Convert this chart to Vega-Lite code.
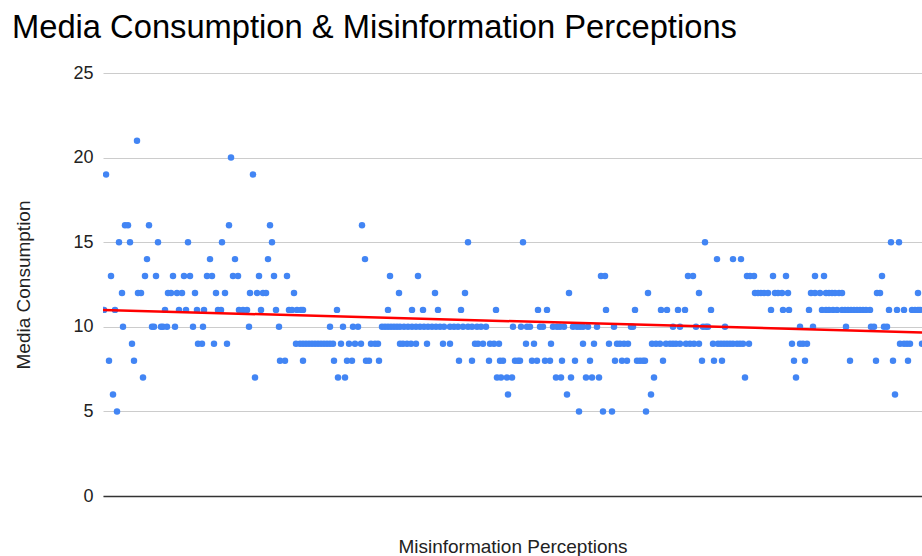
{
  "$schema": "https://vega.github.io/schema/vega-lite/v6.json",
  "width": 819,
  "height": 423,
  "autosize": {"type": "none"},
  "padding": {"left": 103, "top": 73, "right": 0, "bottom": 60},
  "background": "white",
  "title": {
    "text": "Media Consumption & Misinformation Perceptions",
    "anchor": "start",
    "frame": "group",
    "dx": -91,
    "offset": 19,
    "font": "Liberation Sans",
    "fontSize": 32.7,
    "fontWeight": "normal",
    "color": "#000000"
  },
  "config": {
    "view": {"stroke": null},
    "font": "Liberation Sans"
  },
  "datasets": {
    "points": [
      {"m":34,"c":21},{"m":128,"c":20},{"m":3,"c":19},{"m":150,"c":19},
      {"m":22,"c":16},{"m":25,"c":16},{"m":46,"c":16},{"m":126,"c":16},{"m":167,"c":16},{"m":259,"c":16},
      {"m":16,"c":15},{"m":27,"c":15},{"m":55,"c":15},{"m":85,"c":15},{"m":119,"c":15},{"m":169,"c":15},{"m":365,"c":15},{"m":420,"c":15},{"m":602,"c":15},{"m":788,"c":15},{"m":796,"c":15},
      {"m":44,"c":14},{"m":107,"c":14},{"m":132,"c":14},{"m":165,"c":14},{"m":262,"c":14},{"m":614,"c":14},{"m":630,"c":14},{"m":638,"c":14},
      {"m":8,"c":13},{"m":42,"c":13},{"m":53,"c":13},{"m":70,"c":13},{"m":81,"c":13},{"m":87,"c":13},{"m":104,"c":13},{"m":109,"c":13},{"m":130,"c":13},{"m":135,"c":13},{"m":156,"c":13},{"m":171,"c":13},{"m":184,"c":13},{"m":287,"c":13},{"m":315,"c":13},{"m":498,"c":13},{"m":502,"c":13},{"m":585,"c":13},{"m":590,"c":13},{"m":644,"c":13},{"m":647,"c":13},{"m":651,"c":13},{"m":670,"c":13},{"m":683,"c":13},{"m":712,"c":13},{"m":721,"c":13},{"m":779,"c":13},
      {"m":19,"c":12},{"m":35,"c":12},{"m":38,"c":12},{"m":65,"c":12},{"m":68,"c":12},{"m":74,"c":12},{"m":79,"c":12},{"m":92,"c":12},{"m":113,"c":12},{"m":122,"c":12},{"m":147,"c":12},{"m":154,"c":12},{"m":160,"c":12},{"m":163,"c":12},{"m":191,"c":12},{"m":296,"c":12},{"m":332,"c":12},{"m":362,"c":12},{"m":466,"c":12},{"m":545,"c":12},{"m":596,"c":12},{"m":652,"c":12},{"m":655,"c":12},{"m":658,"c":12},{"m":661,"c":12},{"m":665,"c":12},{"m":672,"c":12},{"m":675,"c":12},{"m":679,"c":12},{"m":685,"c":12},{"m":708,"c":12},{"m":712,"c":12},{"m":717,"c":12},{"m":723,"c":12},{"m":726,"c":12},{"m":729,"c":12},{"m":732,"c":12},{"m":736,"c":12},{"m":739,"c":12},{"m":774,"c":12},{"m":777,"c":12},{"m":815,"c":12},
      {"m":1,"c":11},{"m":12,"c":11},{"m":62,"c":11},{"m":76,"c":11},{"m":83,"c":11},{"m":94,"c":11},{"m":101,"c":11},{"m":115,"c":11},{"m":118,"c":11},{"m":136,"c":11},{"m":140,"c":11},{"m":144,"c":11},{"m":158,"c":11},{"m":173,"c":11},{"m":186,"c":11},{"m":189,"c":11},{"m":194,"c":11},{"m":198,"c":11},{"m":200,"c":11},{"m":234,"c":11},{"m":285,"c":11},{"m":309,"c":11},{"m":320,"c":11},{"m":335,"c":11},{"m":358,"c":11},{"m":393,"c":11},{"m":435,"c":11},{"m":444,"c":11},{"m":503,"c":11},{"m":532,"c":11},{"m":558,"c":11},{"m":564,"c":11},{"m":575,"c":11},{"m":582,"c":11},{"m":608,"c":11},{"m":668,"c":11},{"m":680,"c":11},{"m":686,"c":11},{"m":706,"c":11},{"m":719,"c":11},{"m":723,"c":11},{"m":726,"c":11},{"m":730,"c":11},{"m":734,"c":11},{"m":739,"c":11},{"m":742,"c":11},{"m":745,"c":11},{"m":748,"c":11},{"m":751,"c":11},{"m":754,"c":11},{"m":757,"c":11},{"m":760,"c":11},{"m":763,"c":11},{"m":767,"c":11},{"m":786,"c":11},{"m":794,"c":11},{"m":801,"c":11},{"m":809,"c":11},{"m":812,"c":11},{"m":815,"c":11},{"m":817,"c":11},
      {"m":20,"c":10},{"m":49,"c":10},{"m":51,"c":10},{"m":58,"c":10},{"m":60,"c":10},{"m":64,"c":10},{"m":72,"c":10},{"m":90,"c":10},{"m":100,"c":10},{"m":146,"c":10},{"m":176,"c":10},{"m":227,"c":10},{"m":240,"c":10},{"m":250,"c":10},{"m":255,"c":10},{"m":279,"c":10},{"m":282,"c":10},{"m":285,"c":10},{"m":288,"c":10},{"m":291,"c":10},{"m":294,"c":10},{"m":297,"c":10},{"m":301,"c":10},{"m":305,"c":10},{"m":309,"c":10},{"m":313,"c":10},{"m":317,"c":10},{"m":321,"c":10},{"m":325,"c":10},{"m":329,"c":10},{"m":333,"c":10},{"m":337,"c":10},{"m":341,"c":10},{"m":347,"c":10},{"m":351,"c":10},{"m":355,"c":10},{"m":360,"c":10},{"m":365,"c":10},{"m":369,"c":10},{"m":374,"c":10},{"m":378,"c":10},{"m":383,"c":10},{"m":410,"c":10},{"m":418,"c":10},{"m":424,"c":10},{"m":427,"c":10},{"m":437,"c":10},{"m":440,"c":10},{"m":450,"c":10},{"m":454,"c":10},{"m":457,"c":10},{"m":461,"c":10},{"m":470,"c":10},{"m":474,"c":10},{"m":477,"c":10},{"m":480,"c":10},{"m":485,"c":10},{"m":494,"c":10},{"m":511,"c":10},{"m":528,"c":10},{"m":530,"c":10},{"m":570,"c":10},{"m":577,"c":10},{"m":593,"c":10},{"m":600,"c":10},{"m":603,"c":10},{"m":605,"c":10},{"m":622,"c":10},{"m":697,"c":10},{"m":710,"c":10},{"m":743,"c":10},{"m":768,"c":10},{"m":771,"c":10},{"m":781,"c":10},{"m":784,"c":10},
      {"m":29,"c":9},{"m":95,"c":9},{"m":99,"c":9},{"m":111,"c":9},{"m":124,"c":9},{"m":193,"c":9},{"m":197,"c":9},{"m":200,"c":9},{"m":203,"c":9},{"m":206,"c":9},{"m":209,"c":9},{"m":212,"c":9},{"m":215,"c":9},{"m":218,"c":9},{"m":221,"c":9},{"m":224,"c":9},{"m":227,"c":9},{"m":230,"c":9},{"m":238,"c":9},{"m":246,"c":9},{"m":252,"c":9},{"m":258,"c":9},{"m":268,"c":9},{"m":272,"c":9},{"m":275,"c":9},{"m":297,"c":9},{"m":300,"c":9},{"m":304,"c":9},{"m":308,"c":9},{"m":313,"c":9},{"m":324,"c":9},{"m":340,"c":9},{"m":347,"c":9},{"m":372,"c":9},{"m":375,"c":9},{"m":380,"c":9},{"m":387,"c":9},{"m":391,"c":9},{"m":396,"c":9},{"m":423,"c":9},{"m":431,"c":9},{"m":448,"c":9},{"m":480,"c":9},{"m":491,"c":9},{"m":506,"c":9},{"m":514,"c":9},{"m":517,"c":9},{"m":521,"c":9},{"m":525,"c":9},{"m":549,"c":9},{"m":553,"c":9},{"m":557,"c":9},{"m":563,"c":9},{"m":567,"c":9},{"m":570,"c":9},{"m":573,"c":9},{"m":577,"c":9},{"m":583,"c":9},{"m":587,"c":9},{"m":591,"c":9},{"m":596,"c":9},{"m":610,"c":9},{"m":615,"c":9},{"m":618,"c":9},{"m":621,"c":9},{"m":624,"c":9},{"m":627,"c":9},{"m":630,"c":9},{"m":634,"c":9},{"m":637,"c":9},{"m":640,"c":9},{"m":646,"c":9},{"m":689,"c":9},{"m":697,"c":9},{"m":700,"c":9},{"m":704,"c":9},{"m":797,"c":9},{"m":801,"c":9},{"m":804,"c":9},{"m":807,"c":9},{"m":819,"c":9},
      {"m":6,"c":8},{"m":31,"c":8},{"m":177,"c":8},{"m":182,"c":8},{"m":200,"c":8},{"m":231,"c":8},{"m":244,"c":8},{"m":249,"c":8},{"m":263,"c":8},{"m":266,"c":8},{"m":276,"c":8},{"m":356,"c":8},{"m":369,"c":8},{"m":386,"c":8},{"m":397,"c":8},{"m":400,"c":8},{"m":412,"c":8},{"m":415,"c":8},{"m":417,"c":8},{"m":429,"c":8},{"m":434,"c":8},{"m":442,"c":8},{"m":447,"c":8},{"m":459,"c":8},{"m":472,"c":8},{"m":487,"c":8},{"m":512,"c":8},{"m":519,"c":8},{"m":524,"c":8},{"m":534,"c":8},{"m":537,"c":8},{"m":540,"c":8},{"m":542,"c":8},{"m":560,"c":8},{"m":599,"c":8},{"m":611,"c":8},{"m":619,"c":8},{"m":691,"c":8},{"m":702,"c":8},{"m":747,"c":8},{"m":773,"c":8},{"m":790,"c":8},{"m":805,"c":8},
      {"m":40,"c":7},{"m":152,"c":7},{"m":235,"c":7},{"m":242,"c":7},{"m":394,"c":7},{"m":398,"c":7},{"m":404,"c":7},{"m":409,"c":7},{"m":453,"c":7},{"m":458,"c":7},{"m":468,"c":7},{"m":483,"c":7},{"m":489,"c":7},{"m":496,"c":7},{"m":551,"c":7},{"m":642,"c":7},{"m":693,"c":7},
      {"m":10,"c":6},{"m":405,"c":6},{"m":464,"c":6},{"m":548,"c":6},{"m":792,"c":6},
      {"m":14,"c":5},{"m":476,"c":5},{"m":500,"c":5},{"m":509,"c":5},{"m":543,"c":5}
    ]
  },
  "data": {"name": "points"},
  "layer": [
    {
      "mark": {"type": "point", "filled": true, "size": 42, "opacity": 1, "color": "#4285F4", "clip": true},
      "encoding": {
        "x": {
          "field": "m", "type": "quantitative",
          "scale": {"domain": [0, 819], "nice": false, "zero": false},
          "axis": {
            "title": "Misinformation Perceptions",
            "labels": false, "ticks": false, "grid": false,
            "domain": true, "domainColor": "#333333", "domainWidth": 1.5,
            "titleFont": "Liberation Sans", "titleFontSize": 19, "titleFontWeight": "normal", "titleColor": "#222222",
            "titleY": 50, "titleBaseline": "middle"
          }
        },
        "y": {
          "field": "c", "type": "quantitative",
          "scale": {"domain": [0, 25], "nice": false},
          "axis": {
            "title": "Media Consumption",
            "values": [0, 5, 10, 15, 20, 25],
            "domain": false, "ticks": false,
            "grid": true, "gridColor": "#cccccc", "gridWidth": 1,
            "labelFont": "Liberation Sans", "labelFontSize": 18, "labelColor": "#222222", "labelPadding": 10,
            "titleFont": "Liberation Sans", "titleFontSize": 19, "titleFontWeight": "normal", "titleColor": "#222222",
            "titleX": -80, "titleY": 211.5, "titleBaseline": "middle", "titleAlign": "center", "titleAngle": -90
          }
        }
      }
    },
    {
      "transform": [{"regression": "c", "on": "m", "extent": [0, 819]}],
      "mark": {"type": "line", "color": "#ff0000", "strokeWidth": 2.5, "clip": true},
      "encoding": {
        "x": {"field": "m", "type": "quantitative"},
        "y": {"field": "c", "type": "quantitative"}
      }
    }
  ]
}
